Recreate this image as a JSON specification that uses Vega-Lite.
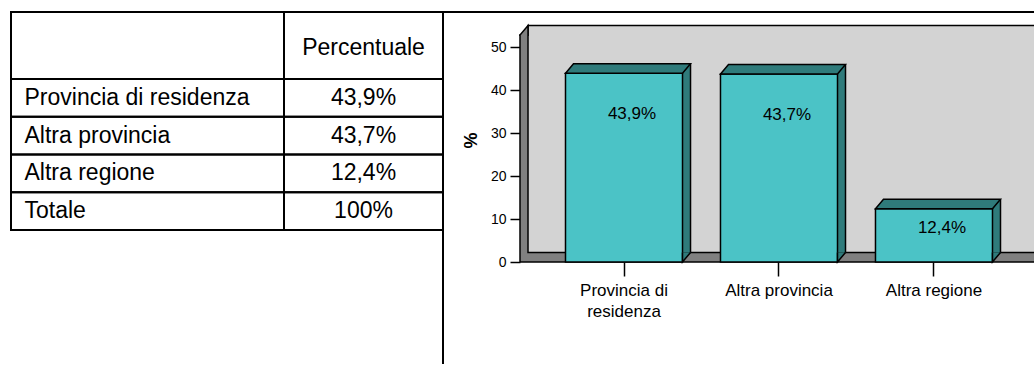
{
  "$schema": "https://vega.github.io/schema/vega-lite/v6.json",
  "padding": {"left": 9, "top": 11, "right": 0, "bottom": 0},
  "background": "white",
  "config": {
    "font": "Liberation Sans",
    "locale": {"number": {"decimal": ",", "thousands": ".", "grouping": [3], "currency": ["", "%"]}},
    "view": {"stroke": null},
    "axis": {"labelFont": "Liberation Sans", "titleFont": "Liberation Sans", "labelColor": "black", "titleColor": "black", "grid": false},
    "text": {"font": "Liberation Sans", "color": "black"}
  },
  "datasets": {
    "dati": [
      {"voce": "Provincia di residenza", "percentuale": 43.9},
      {"voce": "Altra provincia", "percentuale": 43.7},
      {"voce": "Altra regione", "percentuale": 12.4},
      {"voce": "Totale", "percentuale": 100}
    ]
  },
  "bounds": "flush",
  "spacing": 0,
  "hconcat": [
    {
      "width": 273,
      "height": 218,
      "view": {"stroke": "black", "strokeWidth": 2},
      "data": {"name": "dati"},
      "mark": {"type": "rect", "filled": false, "stroke": "black", "strokeWidth": 2},
      "encoding": {
        "y": {
          "field": "voce",
          "type": "nominal",
          "sort": null,
          "scale": {"paddingInner": 0, "paddingOuter": 0.8874, "align": 1},
          "axis": {
            "orient": "left",
            "offset": -13,
            "labelAlign": "left",
            "labelBaseline": "middle",
            "labelPadding": 0,
            "labelFontSize": 23,
            "labelLimit": 0,
            "ticks": false,
            "domain": false,
            "title": null,
            "zindex": 1
          }
        }
      }
    },
    {
      "width": 159,
      "height": 218,
      "view": {"stroke": "black", "strokeWidth": 2},
      "resolve": {"scale": {"y": "independent"}},
      "layer": [
        {
          "data": {"name": "dati"},
          "layer": [
            {
              "mark": {"type": "rect", "filled": false, "stroke": "black", "strokeWidth": 2},
              "encoding": {
                "y": {"field": "voce", "type": "nominal", "sort": null, "scale": {"paddingInner": 0, "paddingOuter": 0.8874, "align": 1}, "axis": null}
              }
            },
            {
              "mark": {"type": "text", "fontSize": 23, "align": "center", "baseline": "middle"},
              "encoding": {
                "y": {"field": "voce", "type": "nominal", "sort": null, "axis": null},
                "text": {"field": "percentuale", "type": "quantitative", "format": "$.1~f"}
              }
            }
          ]
        },
        {
          "data": {"values": [{"intestazione": "Percentuale"}]},
          "mark": {"type": "text", "fontSize": 23, "align": "center", "baseline": "middle"},
          "encoding": {
            "y": {"field": "intestazione", "type": "nominal", "scale": {"type": "band", "paddingInner": 0, "paddingOuter": 1.1269, "align": 0}, "axis": null},
            "text": {"field": "intestazione"}
          }
        }
      ]
    },
    {
      "width": 77,
      "height": 352,
      "view": {"stroke": "black", "strokeWidth": 2, "strokeDash": [77, 429, 352, 0]},
      "data": {"values": [{"cornice": ""}]},
      "mark": {"type": "text"},
      "encoding": {"text": {"field": "cornice"}}
    },
    {
      "width": 515,
      "height": 250,
      "view": {"stroke": "black", "strokeWidth": 2, "strokeDash": [515, 2000]},
      "data": {"name": "dati"},
      "transform": [{"filter": "datum.voce != 'Totale'"}],
      "resolve": {"scale": {"y": "independent"}},
      "layer": [
        {
          "layer": [
            {
              "data": {"values": [{"parete": "laterale e pavimento"}]},
              "mark": {"type": "rect", "fill": "#808080", "stroke": "black", "strokeWidth": 1.5, "strokeDash": [515, 227, 742, 0]},
              "encoding": {
                "y": {"datum": 52.8, "type": "quantitative", "scale": {"domain": [0, 58.14], "nice": false}},
                "y2": {"datum": 0}
              }
            },
            {
              "data": {"values": [{"parete": "fondo"}]},
              "mark": {"type": "rect", "fill": "#D3D3D3", "stroke": "black", "strokeWidth": 1.5, "xOffset": 8, "x2Offset": 8, "yOffset": -9.5, "y2Offset": -9.5, "clip": true},
              "encoding": {
                "x": {"value": 0},
                "x2": {"value": "width"},
                "y": {"datum": 52.8, "type": "quantitative"},
                "y2": {"datum": 0}
              }
            },
            {
              "data": {"values": [{"parete": "spigolo laterale"}]},
              "mark": {"type": "point", "shape": "M0,0.1L0,0L0.8,-0.95L0.8,0.1", "size": 400, "filled": true, "fill": "#808080", "stroke": "black", "strokeWidth": 1.5, "opacity": 1},
              "encoding": {
                "x": {"value": 0},
                "y": {"datum": 52.8, "type": "quantitative"}
              }
            },
            {
              "mark": {"type": "bar", "fill": "#2F7B7B", "xOffset": 8, "x2Offset": 8, "yOffset": -9.5, "y2Offset": -9.5},
              "encoding": {
                "x": {"field": "voce", "type": "nominal", "sort": null},
                "y": {"field": "percentuale", "type": "quantitative"}
              }
            },
            {
              "mark": {"type": "rule", "stroke": "black", "strokeWidth": 1.5, "xOffset": 8, "yOffset": -9.5, "y2Offset": -9.5},
              "encoding": {
                "x": {"field": "voce", "type": "nominal", "sort": null, "bandPosition": 1},
                "y": {"field": "percentuale", "type": "quantitative"},
                "y2": {"datum": 0}
              }
            },
            {
              "mark": {"type": "bar", "fill": "#4BC3C6", "stroke": "black", "strokeWidth": 1.5},
              "encoding": {
                "x": {
                  "field": "voce",
                  "type": "nominal",
                  "sort": null,
                  "scale": {"paddingInner": 0.245, "paddingOuter": 0.2839, "align": 0.517},
                  "axis": {
                    "title": null,
                    "domain": false,
                    "labelAngle": 0,
                    "labelAlign": "center",
                    "labelFontSize": 17,
                    "labelColor": "black",
                    "tickColor": "black",
                    "tickSize": 14,
                    "tickWidth": 1.5,
                    "labelPadding": 14,
                    "labelLineHeight": 21,
                    "labelLimit": 200,
                    "labelExpr": "datum.value == 'Provincia di residenza' ? ['Provincia di', 'residenza'] : datum.value"
                  }
                },
                "y": {
                  "field": "percentuale",
                  "type": "quantitative",
                  "axis": {
                    "title": "%",
                    "values": [0, 10, 20, 30, 40, 50],
                    "domain": false,
                    "grid": false,
                    "tickSize": 10,
                    "tickColor": "black",
                    "tickWidth": 1.5,
                    "labelPadding": 4,
                    "labelFontSize": 14,
                    "titleFontSize": 18,
                    "titleFontWeight": "bold",
                    "titleAngle": 270,
                    "titleBaseline": "middle",
                    "titleAlign": "center",
                    "titleX": -49,
                    "titleY": 128
                  }
                }
              }
            },
            {
              "mark": {"type": "point", "shape": "M-5.85,0L5.85,0L6.65,-0.95L-5.05,-0.95Z", "size": 400, "filled": true, "fill": "#2F7B7B", "stroke": "black", "strokeWidth": 1.5, "opacity": 1},
              "encoding": {
                "x": {"field": "voce", "type": "nominal", "sort": null},
                "y": {"field": "percentuale", "type": "quantitative"}
              }
            },
            {
              "mark": {"type": "point", "shape": "M6.65,-0.95L5.85,0L5.85,-0.95", "size": 400, "filled": true, "fill": "#2F7B7B", "stroke": "black", "strokeWidth": 1.5, "opacity": 1},
              "encoding": {
                "x": {"field": "voce", "type": "nominal", "sort": null},
                "y": {"datum": 0, "type": "quantitative"}
              }
            }
          ]
        },
        {
          "mark": {"type": "text", "fontSize": 17, "dx": 8, "dy": 10.8, "baseline": "middle", "align": "center"},
          "encoding": {
            "x": {"field": "voce", "type": "nominal", "sort": null},
            "y": {"field": "percentuale", "type": "quantitative", "scale": {"domain": [0, 69.1], "nice": false}, "axis": null},
            "text": {"field": "percentuale", "type": "quantitative", "format": "$.1~f"}
          }
        }
      ]
    }
  ]
}
